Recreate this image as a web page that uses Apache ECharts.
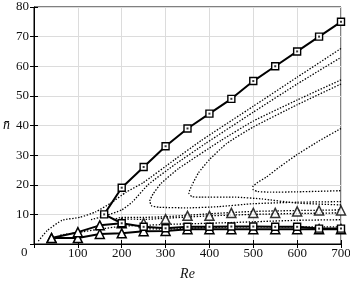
<!DOCTYPE html>
<html><head><meta charset="utf-8">
<script src="https://cdn.jsdelivr.net/npm/echarts@6/dist/echarts.min.js"></script>
<style>html,body{margin:0;padding:0;background:#fff}#c{width:350px;height:281px}</style>
</head><body><div id="c"></div>
<script>
// ---- data (Re, n-bar) ----
const xTicks = [0,100,200,300,400,500,600,700];
const yTicks = [0,10,20,30,40,50,60,70,80];
const squareBranch = [[700,75],[650,70],[600,65],[550,60],[500,55],[450,49],[400,44],[350,39],[300,33],[250,26],[200,19],[160,10],[200,7],[250,5.8],[300,5.3],[350,5.8],[400,5.8],[450,5.9],[500,5.9],[550,5.8],[600,5.8],[650,5.2],[700,5.2]];
const triUpper = [[40,2],[100,4],[150,6.3],[200,7]];
const triUpperPts = [[250,7.1],[300,8.4],[350,9.5],[400,9.5],[450,10.5],[500,10.5],[550,10.5],[600,11],[650,11.3],[700,11.3]];
const triLower = [[40,2],[100,2],[150,3.4],[200,3.6],[250,4.3],[300,4.4],[350,5],[400,5],[450,5],[500,5],[550,5],[600,5],[650,5],[700,5]];
const dotL1 = [[10,1],[30,4.5],[64,8],[105,9],[140,10.8],[175,13.8],[210,17.5],[248,20.6],[320,28.4],[382,35],[500,46.5],[600,56.3],[700,66]];
const dotL2 = [[130,8.2],[165,9.6],[200,11.5],[225,14.3],[260,20],[320,26.7],[392,34],[500,44.5],[600,54],[700,63]];
const dotN1 = [[700,55.4],[600,48.6],[500,41.5],[427,35],[330,25.5],[290,20.5],[272,17],[264,14.5],[268,12.9],[285,12.4],[350,12.2],[420,12.6],[500,13.6],[600,14.1],[700,14.3]];
const dotN2 = [[700,54],[600,47],[500,39.5],[440,34],[400,28.5],[375,24],[360,19.8],[353,17.2],[360,16],[380,15.8],[460,15.8],[520,15.2],[600,13.8],[700,13.2]];
const dotN3 = [[700,39],[650,34.8],[598,30],[560,26],[530,22.6],[510,20.8],[499,19.3],[500,18.3],[510,17.7],[540,17.5],[600,17.6],[700,18]];
const dotC = [[180,8.2],[200,9],[250,9],[300,9.2],[400,10.2],[500,11],[600,11.3],[700,11.5]];
const dotD = [[200,8.5],[250,8.3],[300,8.7],[400,9.5],[500,10],[600,10.3],[700,10.5]];
const dotE = [[60,3],[105,4],[150,5],[200,6],[250,6.3],[300,6.6],[400,7],[500,7.5],[600,8],[700,8.2]];
const dotF = [[250,5.2],[300,5],[400,5.6],[500,5.8],[600,5.8],[700,5.8]];
const dottedSets = [dotL1, dotL2, dotN1, dotN2, dotN3, dotC, dotD, dotE, dotF];

const FONT = 'Liberation Serif';
const chart = echarts.init(document.getElementById('c'), null, {renderer:'canvas'});
const dotted = dottedSets.map(d => ({
  type:'line', data:d, showSymbol:false, symbol:'none', smooth:0.15, silent:true,
  lineStyle:{color:'#000', width:1.3, type:[1.4,1.6]}, z:2
}));
const axisCommon = {
  axisLine:{show:true, lineStyle:{color:'#000', width:1}},
  axisTick:{show:true, inside:true, length:4, lineStyle:{color:'#000'}},
  splitLine:{show:true, lineStyle:{color:'#dcdcdc', width:1}},
  axisLabel:{color:'#111', fontFamily:FONT, fontSize:13}
};
chart.setOption({
  animation:false,
  backgroundColor:'#fff',
  grid:{left:34, right:9, top:7, bottom:37, containLabel:false, outerBoundsMode:'none', show:true, borderColor:'#000', borderWidth:1},
  xAxis:[{type:'value', min:0, max:700, interval:100, ...axisCommon,
    axisLabel:{...axisCommon.axisLabel, margin:3, formatter:v=> v===0?'':String(v)},
    name:'Re', nameLocation:'middle', nameGap:23,
    nameTextStyle:{fontFamily:FONT, fontStyle:'italic', fontSize:14, color:'#111'}},
    {type:'value', position:'top', min:0, max:700, interval:100, axisLine:{show:false},
     axisTick:{show:true, inside:true, length:4, lineStyle:{color:'#000'}}, axisLabel:{show:false}, splitLine:{show:false}}],
  yAxis:[{type:'value', min:0, max:80, interval:10, ...axisCommon,
    axisLabel:{...axisCommon.axisLabel, margin:5, formatter:v=> v===0?'':String(v)},
    name:'n\u0304', nameLocation:'middle', nameGap:24, nameRotate:0,
    nameTextStyle:{fontFamily:FONT, fontStyle:'italic', fontSize:14, color:'#111'}},
    {type:'value', position:'right', min:0, max:80, interval:10, axisLine:{show:false},
     axisTick:{show:true, inside:true, length:4, lineStyle:{color:'#000'}}, axisLabel:{show:false}, splitLine:{show:false}}],
  graphic:[{type:'text', left:21, top:246, style:{text:'0', font:'13px "Liberation Serif"', fill:'#111'}}],
  series:[
    ...dotted,
    {type:'line', data:triLower, symbol:'triangle', symbolSize:9, showAllSymbol:true,
      lineStyle:{color:'#000', width:2}, itemStyle:{color:'#fff', borderColor:'#000', borderWidth:1.5}, z:4},
    {type:'line', data:triUpper, symbol:'triangle', symbolSize:9, showAllSymbol:true,
      lineStyle:{color:'#000', width:2}, itemStyle:{color:'#fff', borderColor:'#000', borderWidth:1.5}, z:4},
    {type:'scatter', data:triUpperPts, symbol:'triangle', symbolSize:9,
      itemStyle:{color:'#fff', borderColor:'#000', borderWidth:1.5}, z:5},
    {type:'line', data:squareBranch, symbol:'rect', symbolSize:7, showAllSymbol:true,
      lineStyle:{color:'#000', width:2}, itemStyle:{color:'#fff', borderColor:'#000', borderWidth:1.4}, z:6},
    {type:'scatter', data:squareBranch, symbol:'rect', symbolSize:2, itemStyle:{color:'#000'}, z:7}
  ]
});
</script></body></html>
